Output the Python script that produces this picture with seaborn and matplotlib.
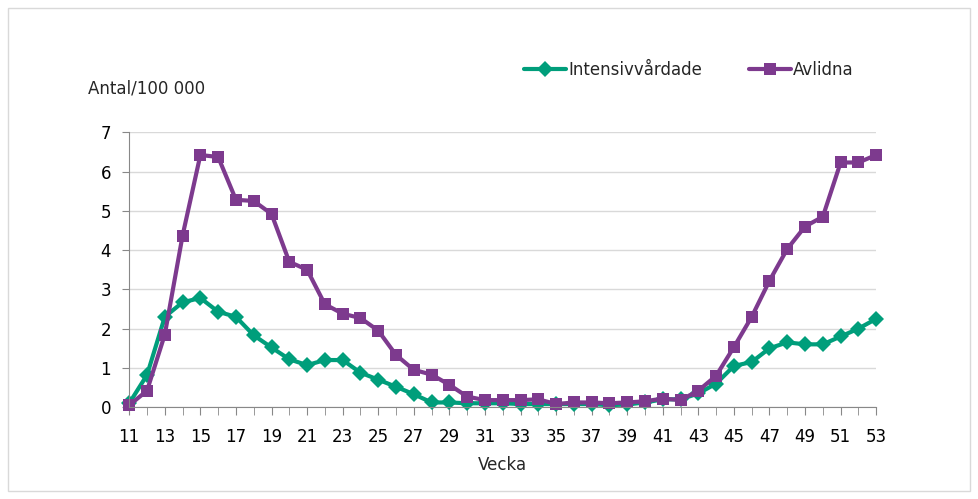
import numpy as np
import pandas as pd
import matplotlib.pyplot as plt
import seaborn as sns
from matplotlib.patches import Rectangle

veckor = list(range(11, 54))
intensivvardade = [0.10, 0.82, 2.30, 2.67, 2.78, 2.43, 2.30, 1.83, 1.52, 1.22,
                   1.07, 1.20, 1.20, 0.88, 0.70, 0.52, 0.33, 0.12, 0.12, 0.10,
                   0.10, 0.10, 0.08, 0.08, 0.08, 0.08, 0.08, 0.05, 0.07, 0.12,
                   0.20, 0.20, 0.35, 0.60, 1.05, 1.15, 1.50, 1.65, 1.60, 1.60,
                   1.80, 2.00, 2.25]
avlidna = [0.05, 0.42, 1.85, 4.37, 6.42, 6.37, 5.28, 5.25, 4.92, 3.70,
           3.50, 2.62, 2.38, 2.27, 1.95, 1.33, 0.95, 0.83, 0.57, 0.27,
           0.18, 0.18, 0.18, 0.20, 0.08, 0.12, 0.12, 0.10, 0.12, 0.15,
           0.22, 0.18, 0.42, 0.80, 1.53, 2.30, 3.22, 4.03, 4.60, 4.85,
           6.23, 6.23, 6.42]
serier = ['Intensivvårdade', 'Avlidna']
farger = {'Intensivvårdade': '#009E7B', 'Avlidna': '#7D3A8E'}
markorer = {'Intensivvårdade': 'D', 'Avlidna': 's'}

df = pd.DataFrame({
    'Vecka': veckor * 2,
    'Antal': intensivvardade + avlidna,
    'Serie': [serier[0]] * len(veckor) + [serier[1]] * len(veckor),
})

sns.set_style('white')
plt.rcParams['font.family'] = ['DejaVu Sans']

fig = plt.figure(figsize=(9.79, 4.99), dpi=100)
ax = fig.add_axes([0.132, 0.184, 0.763, 0.551])

sns.lineplot(data=df, x='Vecka', y='Antal', hue='Serie', style='Serie',
             hue_order=serier, style_order=serier, palette=farger,
             markers=markorer, dashes=False, linewidth=3, markersize=8.5,
             markeredgewidth=0, ax=ax)
for line in ax.lines:
    line.set_clip_on(False)

ax.set_xlim(11, 53)
ax.set_ylim(0, 7)
ax.set_xticks(range(11, 54, 2))
ax.set_xticks(veckor, minor=True)
ax.set_yticks(range(0, 8))
ax.yaxis.grid(True, color='#D9D9D9', linewidth=1)
ax.set_axisbelow(True)
for s in ['top', 'right']:
    ax.spines[s].set_visible(False)
for s in ['left', 'bottom']:
    ax.spines[s].set_color('#888888')
ax.tick_params(axis='both', which='both', direction='out', color='#888888',
               labelsize=12, labelcolor='black')
ax.tick_params(axis='x', which='major', length=6, bottom=True, pad=9)
ax.tick_params(axis='x', which='minor', length=6, bottom=True)
ax.tick_params(axis='y', length=5, left=True, pad=8)
ax.set_xlabel('Vecka', fontsize=12, labelpad=7)
ax.set_ylabel('')
fig.text(0.09, 0.823, 'Antal/100 000', fontsize=12, ha='left', va='center')

leg = ax.legend(loc='lower right', bbox_to_anchor=(0.99, 1.14), ncol=2,
                frameon=False, fontsize=12, handlelength=2.5, columnspacing=2.8,
                handletextpad=0.15)

fig.patches.append(Rectangle((0.008, 0.016), 0.983, 0.968, transform=fig.transFigure,
                             fill=False, edgecolor='#D9D9D9', linewidth=1))

fig.savefig('out.png', dpi=100)
